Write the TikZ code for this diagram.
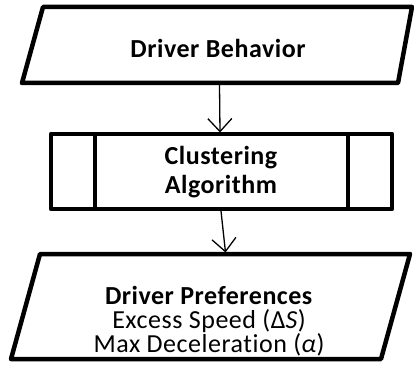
\documentclass[tikz,border=0pt]{standalone}
\usepackage{fontspec}
\setmainfont{Carlito}[LetterSpace=2,Ligatures=NoCommon]
\usetikzlibrary{arrows.meta}
\begin{document}
\begin{tikzpicture}[x=1pt,y=-1pt,
  shapeline/.style={line width=4.5pt, line join=round},
  conn/.style={line width=1.3pt, -{Straight Barb[length=13pt,width=24pt,line width=1.3pt]}},
  lbl/.style={align=center, inner sep=0pt}]
\useasboundingbox (0,0) rectangle (414,366);
% input parallelogram
\draw[shapeline] (43,7) -- (412,7) -- (398,83) -- (22,83) -- cycle;
% predefined process box
\draw[shapeline] (51,134) rectangle (392,209);
\draw[shapeline] (95,134) -- (95,209);
\draw[shapeline] (348,134) -- (348,209);
% output parallelogram
\draw[shapeline] (40,254) -- (410,254) -- (381,359) -- (11,359) -- cycle;
% texts
\node[lbl, font=\fontsize{26}{29}\selectfont\bfseries] (beh) at (218,48) {Driver Behavior};
\node[lbl, font=\fontsize{26}{29}\selectfont\bfseries] (clu) at (221,172) {Clustering\\Algorithm};
\node[lbl, font=\fontsize{26}{24}\selectfont] (pref) at (209,321) {\textbf{Driver Preferences}\\Excess Speed (Δ\textit{S})\\Max Deceleration (\textit{α})};
% connector end points
\coordinate (behout) at (219.5,85);
\coordinate (cluin) at (220,132.5);
\coordinate (cluout) at (221,211);
\coordinate (prefin) at (225.5,252.5);
\draw[conn] (behout) -- (cluin);
\draw[conn] (cluout) -- (prefin);
\end{tikzpicture}
\end{document}
